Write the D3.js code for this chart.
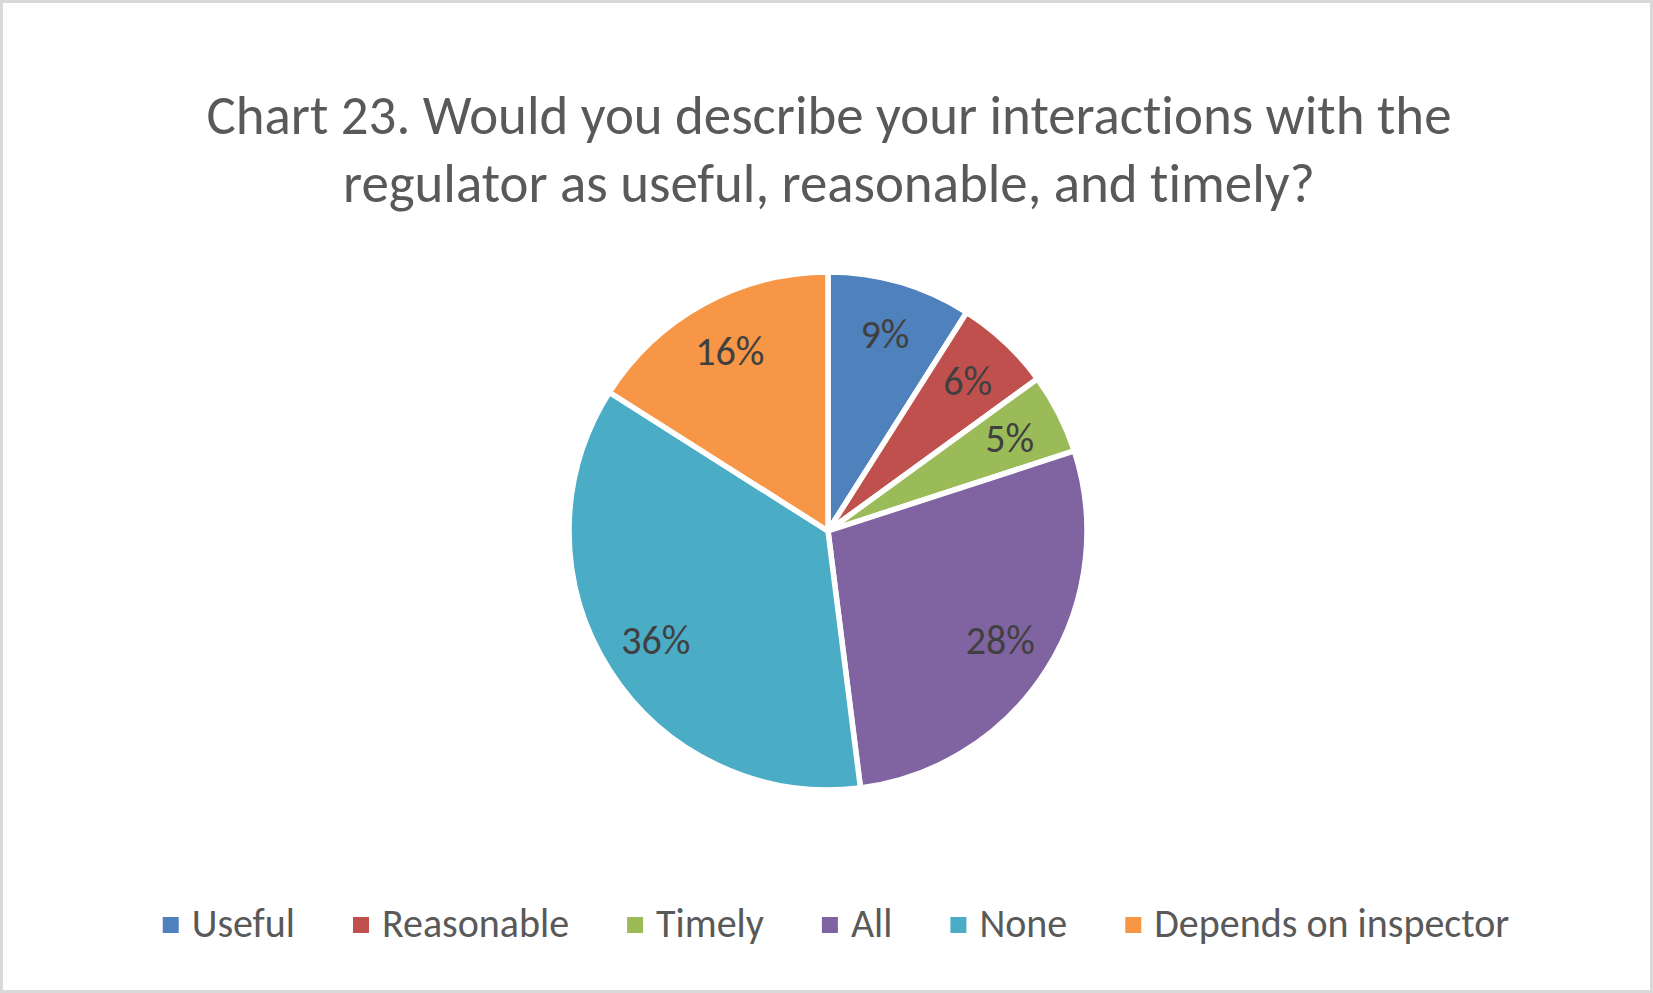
<!DOCTYPE html>
<html>
<head>
<meta charset="utf-8">
<script src="https://cdn.jsdelivr.net/npm/d3@7"></script>
<style>
  body { margin: 0; background: #fff; }
  svg { display: block; }
  text { font-family: Calibri, Carlito, "Open Sans", sans-serif; font-variant-ligatures: none; }
</style>
</head>
<body>
<svg id="chart" width="1653" height="993"></svg>
<script>
// chart data
const categories = ["Useful", "Reasonable", "Timely", "All", "None", "Depends on inspector"];
const values = [9, 6, 5, 28, 36, 16];
const colors = ["#4F81BD", "#C0504D", "#9BBB59", "#8064A2", "#4BACC6", "#F79646"];
const titleLines = [
  "Chart 23. Would you describe your interactions with the",
  "regulator as useful, reasonable, and timely?"
];

const w = 1653, h = 993;
const cx = 828, cy = 531, radius = 259;

const svg = d3.select("#chart");

// frame
svg.append("rect")
   .attr("x", 1.5).attr("y", 1.5)
   .attr("width", w - 3).attr("height", h - 3)
   .attr("fill", "#fff")
   .attr("stroke", "#d9d9d9")
   .attr("stroke-width", 3);

// title, sized so the first line fills the same width as the original
const titleText = svg.append("g")
   .selectAll("text")
   .data(titleLines)
   .enter()
   .append("text")
   .attr("x", 829)
   .attr("y", (d, i) => 134 + i * 68)
   .attr("text-anchor", "middle")
   .attr("fill", "#595959")
   .attr("font-size", 50)
   .text(d => d);
const firstLen = titleText.node().getComputedTextLength();
titleText.attr("font-size", 50 * 1245 / firstLen);

// pie
const dataset = categories.map((c, i) => ({category: c, value: values[i], color: colors[i]}));
const pie = d3.pie().sort(null).value(d => d.value);
const arc = d3.arc().innerRadius(0).outerRadius(radius);
const labelArc = d3.arc().innerRadius(204).outerRadius(204);

const g = svg.append("g").attr("transform", "translate(" + cx + "," + cy + ")");
const slices = pie(dataset);

g.selectAll("path")
 .data(slices)
 .enter()
 .append("path")
 .attr("d", arc)
 .attr("fill", d => d.data.color)
 .attr("stroke", "#fff")
 .attr("stroke-width", 5.5)
 .attr("stroke-linejoin", "round");

g.selectAll("text.label")
 .data(slices)
 .enter()
 .append("text")
 .attr("class", "label")
 .attr("transform", d => "translate(" + labelArc.centroid(d) + ")")
 .attr("text-anchor", "middle")
 .attr("dy", "0.33em")
 .attr("font-size", 40)
 .attr("fill", "#404040")
 .text(d => d.data.value + "%");

// legend
const items = svg.append("g")
   .selectAll("g")
   .data(dataset)
   .enter()
   .append("g");
items.append("rect")
   .attr("width", 16).attr("height", 16)
   .attr("y", 917)
   .attr("fill", d => d.color);
items.append("text")
   .attr("x", 29)
   .attr("y", 937)
   .attr("font-size", 40)
   .attr("fill", "#595959")
   .text(d => d.category);

const gap = 58;
let widths = [];
items.select("text").each(function(){ widths.push(this.getComputedTextLength()); });
const total = d3.sum(widths) + 29 * widths.length + gap * (widths.length - 1);
let xPos = 836 - total / 2;
items.attr("transform", (d, i) => {
  const t = "translate(" + xPos + ",0)";
  xPos += 29 + widths[i] + gap;
  return t;
});
</script>
</body>
</html>
